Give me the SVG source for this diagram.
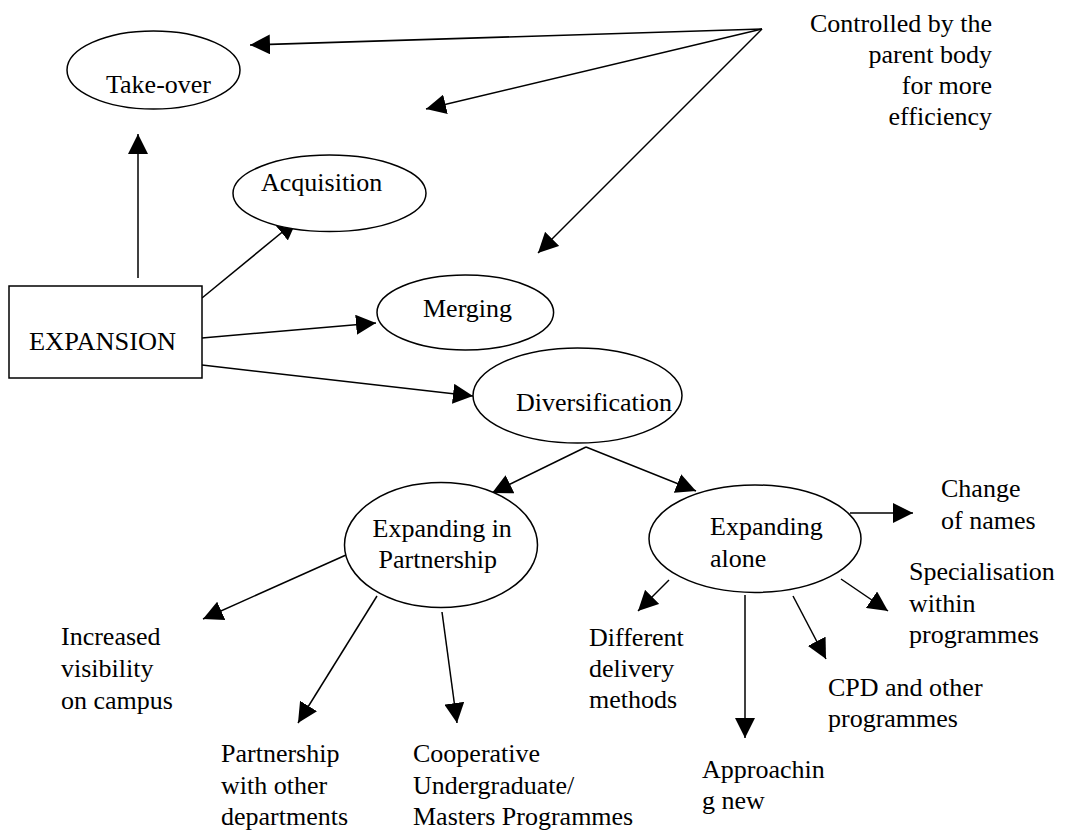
<svg xmlns="http://www.w3.org/2000/svg" width="1066" height="833" viewBox="0 0 1066 833" font-family="'Liberation Serif', Tinos, 'Times New Roman', Times, 'DejaVu Serif', 'Noto Serif', serif">
<style>
text{font-family:'Liberation Serif', Tinos, 'Times New Roman', Times, 'DejaVu Serif', 'Noto Serif', serif;font-size:26px;fill:#000}
.n{fill:#fff;stroke:#000;stroke-width:1.5}
.c line{stroke:#000;stroke-width:1.5;marker-end:url(#ah)}
.r{text-anchor:end}
</style>
<defs>
<marker id="ah" markerUnits="userSpaceOnUse" markerWidth="20" markerHeight="20" refX="20" refY="10" orient="auto">
<path d="M0,0 L20,10 L0,20 z" fill="#000"/>
</marker>
</defs>
<rect width="1066" height="833" fill="#fff"/>
<g id="connectors" class="c">
<line x1="762" y1="29" x2="250" y2="45"/>
<line x1="762" y1="29" x2="426" y2="109"/>
<line x1="762" y1="29" x2="538" y2="253"/>
<line x1="138" y1="278" x2="138" y2="134"/>
<line x1="202" y1="298" x2="297" y2="220"/>
<line x1="202" y1="338" x2="376" y2="323"/>
<line x1="202" y1="365" x2="473" y2="396"/>
<line x1="586" y1="447" x2="492" y2="493"/>
<line x1="586" y1="447" x2="696" y2="491"/>
<line x1="346" y1="555" x2="203" y2="619"/>
<line x1="377" y1="596" x2="298" y2="723"/>
<line x1="442" y1="612" x2="457" y2="723"/>
<line x1="850" y1="513" x2="913" y2="513"/>
<line x1="841" y1="579" x2="888" y2="611"/>
<line x1="793" y1="596" x2="826" y2="659"/>
<line x1="745" y1="595" x2="745" y2="738"/>
<line x1="669" y1="580" x2="638" y2="611"/>
</g>
<g id="takeover"><ellipse class="n" cx="153.5" cy="70" rx="86.5" ry="39"/><text x="106" y="93">Take-over</text></g>
<g id="acquisition"><ellipse class="n" cx="329.5" cy="193.3" rx="96.5" ry="38.3"/><text x="261" y="191">Acquisition</text></g>
<g id="expansion"><rect class="n" x="9" y="286" width="193" height="92"/><text x="29" y="350" textLength="147" lengthAdjust="spacingAndGlyphs">EXPANSION</text></g>
<g id="merging"><ellipse class="n" cx="465.3" cy="312.5" rx="88.3" ry="37.5"/><text x="423" y="317">Merging</text></g>
<g id="diversification"><ellipse class="n" cx="577.5" cy="395.5" rx="104.5" ry="47.5"/><text x="516" y="411" textLength="156" lengthAdjust="spacingAndGlyphs">Diversification</text></g>
<g id="partnership"><ellipse class="n" cx="441" cy="545" rx="96.5" ry="62.5"/><text x="372.5" y="537">Expanding in</text><text x="378.6" y="568">Partnership</text></g>
<g id="alone"><ellipse class="n" cx="755" cy="538.7" rx="106" ry="53.7"/><text x="710" y="535">Expanding</text><text x="710" y="567">alone</text></g>
<g id="controlled"><text class="r" x="992" y="32">Controlled by the</text><text class="r" x="992" y="63">parent body</text><text class="r" x="992" y="94">for more</text><text class="r" x="992" y="125">efficiency</text></g>
<g id="change"><text x="941" y="497">Change</text><text x="941" y="529">of names</text></g>
<g id="specialisation"><text x="909" y="580">Specialisation</text><text x="909" y="612">within</text><text x="909" y="643">programmes</text></g>
<g id="cpd"><text x="828" y="696">CPD and other</text><text x="828" y="727">programmes</text></g>
<g id="approaching"><text x="702" y="778">Approachin</text><text x="702" y="809">g new</text></g>
<g id="different"><text x="589" y="646">Different</text><text x="589" y="677">delivery</text><text x="589" y="708">methods</text></g>
<g id="increased"><text x="61" y="645">Increased</text><text x="61" y="677">visibility</text><text x="61" y="709">on campus</text></g>
<g id="partnershipwith"><text x="221" y="762">Partnership</text><text x="221" y="794">with other</text><text x="221" y="825">departments</text></g>
<g id="cooperative"><text x="413" y="762">Cooperative</text><text x="413" y="794">Undergraduate/</text><text x="413" y="825">Masters Programmes</text></g>
</svg>
